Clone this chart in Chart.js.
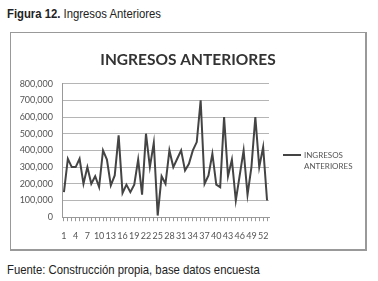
<!DOCTYPE html>
<html>
<head>
<meta charset="utf-8">
<script src="https://cdn.jsdelivr.net/npm/chart.js@4.4.1/dist/chart.umd.min.js"></script>
<style>
  body { margin: 0; width: 378px; height: 281px; background: #fff; position: relative; overflow: hidden; }
  .cap { position: absolute; left: 7px; font-family: "Liberation Sans", Arial, sans-serif; font-size: 13px; color: #222; white-space: nowrap; transform: scaleX(0.87); transform-origin: 0 0; }
  #box { position: absolute; left: 10px; top: 32px; width: 354px; height: 216px; border: 1px solid #999; border-right-width: 2px; border-bottom-width: 2px; }
  #wrap { position: absolute; left: 0; top: 0; width: 354px; height: 218px; }
  #legend { position: absolute; left: 272px; top: 117px; font-family: Lato, sans-serif; font-size: 8px; color: #555; line-height: 11px; }
  #legend .ln { position: absolute; left: 0; top: 4px; width: 18px; height: 2px; background: #444; }
  #legend .tx { position: absolute; left: 21px; top: 0; white-space: nowrap; }
</style>
</head>
<body>
<div class="cap" style="top:6px"><b>Figura 12.</b> Ingresos Anteriores</div>
<div id="box">
  <div id="wrap"><canvas id="c"></canvas></div>
  <div id="legend"><div class="ln"></div><div class="tx">INGRESOS<br>ANTERIORES</div></div>
</div>
<div class="cap" style="top:262px">Fuente: Construcción propia, base datos encuesta</div>
<script>
const categories = [1,2,3,4,5,6,7,8,9,10,11,12,13,14,15,16,17,18,19,20,21,22,23,24,25,26,27,
  28,29,30,31,32,33,34,35,36,37,38,39,40,41,42,43,44,45,46,47,48,49,50,51,52,53];
const ingresos = [150000,350000,300000,300000,350000,200000,300000,200000,245000,180000,
  400000,345000,190000,250000,490000,145000,195000,150000,195000,345000,135000,500000,
  300000,445000,10000,245000,200000,400000,300000,350000,400000,280000,320000,400000,
  450000,700000,200000,250000,380000,195000,180000,600000,245000,345000,100000,250000,
  400000,135000,300000,600000,300000,420000,100000];
const yTicks = [0,100000,200000,300000,400000,500000,600000,700000,800000];

const tickFont = { family: 'Lato', size: 9 };

new Chart(document.getElementById('c'), {
  type: 'line',
  data: {
    labels: categories,
    datasets: [{
      label: 'INGRESOS ANTERIORES',
      data: ingresos,
      borderColor: '#444',
      borderWidth: 2,
      pointRadius: 0,
      tension: 0,
      fill: false
    }]
  },
  options: {
    responsive: true,
    maintainAspectRatio: false,
    animation: false,
    layout: { padding: { left: 0, right: 0, top: 0, bottom: 1 } },
    plugins: {
      legend: { display: false },
      tooltip: { enabled: false },
      title: {
        display: true,
        text: 'INGRESOS ANTERIORES',
        color: '#333',
        font: { family: 'Lato', size: 15.5, weight: 'bold' },
        padding: { top: 18, bottom: 14 }
      }
    },
    scales: {
      x: {
        offset: true,
        grid: { display: true, drawOnChartArea: false, tickLength: 4, color: '#999' },
        border: { display: true, color: '#999' },
        ticks: {
          autoSkip: false, maxRotation: 0, minRotation: 0, padding: 9,
          color: '#555', font: tickFont,
          callback: (v, i) => (i % 3 === 0 ? String(categories[i]) : '')
        }
      },
      y: {
        min: 0, max: 800000,
        afterFit: s => { s.width = 51; },
        afterBuildTicks: s => { s.ticks = yTicks.map(v => ({ value: v })); },
        grid: { color: '#b5b5b5', drawTicks: false },
        border: { display: true, color: '#999' },
        ticks: {
          padding: 9, color: '#555', font: tickFont,
          callback: v => v.toLocaleString('en-US')
        }
      },
      y2: {
        position: 'right',
        display: true,
        afterFit: s => { s.width = 96; },
        grid: { display: false },
        border: { display: false },
        ticks: { display: false }
      }
    }
  }
});
</script>
</body>
</html>
